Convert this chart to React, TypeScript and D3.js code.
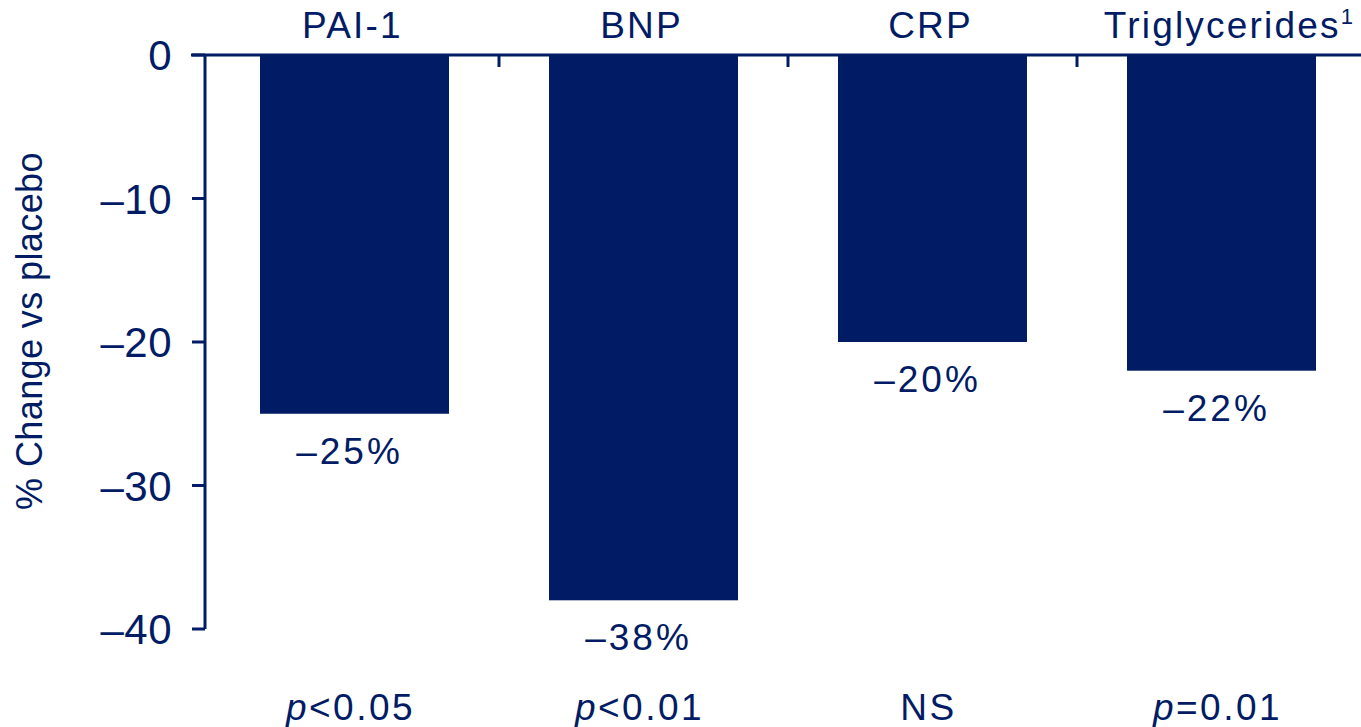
import React from "react";
import * as d3 from "d3";

const categories = ["PAI-1", "BNP", "CRP", "Triglycerides"];
const values = [-25, -38, -20, -22];
const valueLabels = ["\u201325%", "\u201338%", "\u201320%", "\u201322%"];
const pPrefix = ["p", "p", "", "p"];
const pRest = ["<0.05", "<0.01", "NS", "=0.01"];
const superscripts = ["", "", "", "1"];
const yTicks = [0, -10, -20, -30, -40];

const W = 1361;
const H = 727;
const NAVY = "#011c65";
const FONT = "'Liberation Sans', Arial, sans-serif";

export default function App() {
  const x = d3
    .scaleBand<string>()
    .domain(categories)
    .range([210, 1366])
    .paddingInner(0.346)
    .paddingOuter(0.173);
  const y = d3.scaleLinear().domain([0, -40]).range([55, 629]);
  const axisX = 205;
  const step = x.step();
  const bw = x.bandwidth();

  const fmtTick = (v: number) => (v < 0 ? "\u2013" + Math.abs(v) : String(v));

  return (
    <svg
      width={W}
      height={H}
      style={{ position: "absolute", left: 0, top: 0, background: "#fff" }}
      fontFamily={FONT}
      fill={NAVY}
    >
      {/* bars */}
      {categories.map((c, i) => (
        <rect
          key={c}
          x={x(c)}
          y={y(0)}
          width={bw}
          height={y(values[i]) - y(0)}
          fill={NAVY}
        />
      ))}

      {/* zero line and y axis */}
      <line x1={191} x2={W} y1={y(0)} y2={y(0)} stroke={NAVY} strokeWidth={3} />
      <line x1={axisX} x2={axisX} y1={y(0)} y2={y(-40)} stroke={NAVY} strokeWidth={3} />
      {yTicks.map((t) => (
        <g key={t}>
          <line x1={axisX - 13} x2={axisX} y1={y(t)} y2={y(t)} stroke={NAVY} strokeWidth={3} />
          <text
            x={axisX - 33}
            y={y(t) + 15}
            textAnchor="end"
            fontSize={42}
            letterSpacing={0.5}
          >
            {fmtTick(t)}
          </text>
        </g>
      ))}

      {/* category separators on the zero line */}
      {categories.slice(0, -1).map((c) => {
        const sx = (x(c) as number) + bw + (step - bw) / 2;
        return (
          <line key={c} x1={sx} x2={sx} y1={y(0)} y2={y(0) + 12} stroke={NAVY} strokeWidth={3} />
        );
      })}

      {/* category names */}
      {categories.map((c, i) => (
        <text
          key={c}
          x={(x(c) as number) + bw / 2 + (superscripts[i] ? 8 : -2)}
          y={38}
          textAnchor="middle"
          fontSize={37}
          letterSpacing={2.2}
        >
          {c}
          {superscripts[i] && (
            <tspan fontSize={22} dy={-14}>
              {superscripts[i]}
            </tspan>
          )}
        </text>
      ))}

      {/* value labels */}
      {categories.map((c, i) => (
        <text
          key={c}
          x={(x(c) as number) + bw / 2 - 5}
          y={y(values[i]) + 50}
          textAnchor="middle"
          fontSize={37}
          letterSpacing={3}
        >
          {valueLabels[i]}
        </text>
      ))}

      {/* significance */}
      {categories.map((c, i) => (
        <text
          key={c}
          x={(x(c) as number) + bw / 2 - 4}
          y={720}
          textAnchor="middle"
          fontSize={37}
          letterSpacing={2.5}
        >
          {pPrefix[i] && <tspan fontStyle="italic">{pPrefix[i]}</tspan>}
          {pRest[i]}
        </text>
      ))}

      {/* y axis title */}
      <text
        transform={`translate(42, ${331}) rotate(-90)`}
        textAnchor="middle"
        fontSize={36}
        letterSpacing={0.4}
      >
        % Change vs placebo
      </text>
    </svg>
  );
}
